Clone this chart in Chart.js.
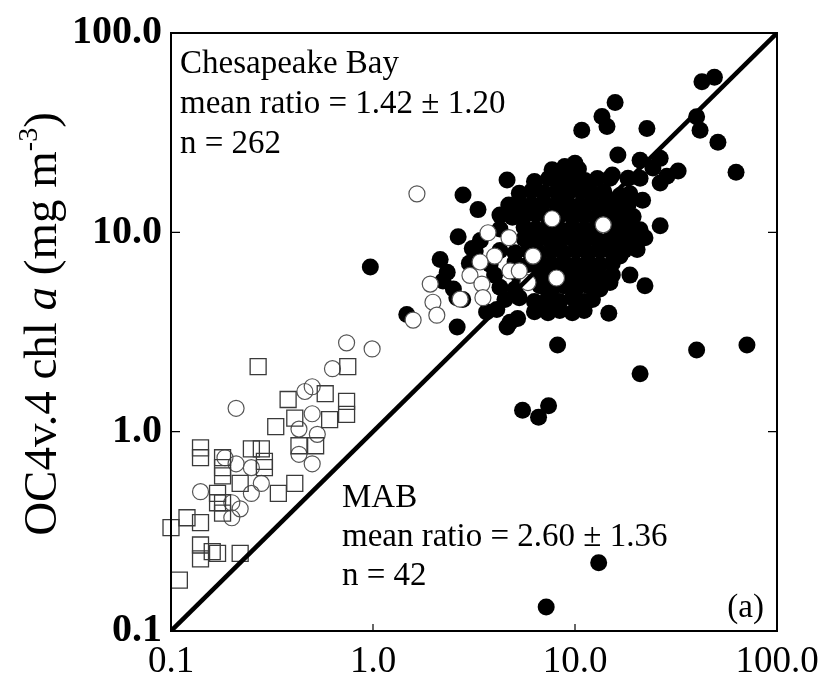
<!DOCTYPE html>
<html>
<head>
<meta charset="utf-8">
<script src="https://cdn.jsdelivr.net/npm/chart.js@4/dist/chart.umd.min.js"></script>
<style>
html,body{margin:0;padding:0;background:#fff;}
#wrap{width:828px;height:679px;position:relative;}
</style>
</head>
<body>
<div id="wrap"><canvas id="c" width="828" height="679"></canvas></div>
<script>
// ---- tick values / labels ----
const xTickValues = [0.1, 1, 10, 100];
const xTickLabels = ['0.1', '1.0', '10.0', '100.0'];
const yTickValues = [0.1, 1, 10, 100];
const yTickLabels = ['0.1', '1.0', '10.0', '100.0'];

// ---- 1:1 line ----
const oneToOne = [[0.1, 0.1], [100, 100]];

// ---- Chesapeake Bay, filled circles ----
const bayFilled = [
  [0.97,6.7],[5.5,1.28],[6.6,1.18],[7.4,1.35],[8.2,2.72],[21,1.95],[40,2.57],[71,2.72],
  [13.1,0.22],[7.2,0.132],[49,60],[42.5,57],[15.8,44.8],[13.6,38.1],[14.4,34.0],
  [22.7,33.2],[10.8,32.5],[40,38],[41.6,32.5],[51,28.3],[62.7,20],[16.3,24.4],[10,22.2],
  [4.61,18.3],[2.79,15.4],[3.31,13.0],[2.64,9.5],[21,23],[26.4,23.5],[32.4,20.3],[28.5,19.1],[24.3,21],
  [14.9,18.7],[18.3,18.7],[21,18.7],[26.4,17.7],[16.7,15.3],[21.6,14.5],[19.4,12],[15.3,13.1],[26.4,10.8],
  [8.4,19.8],[11.5,16.2],[15.3,19.4],[22.2,5.4],[14.7,3.93],
  [4.61,3.35],[5.2,3.7],[2.61,3.35],[7.7,4.4],[10.9,4.4],[4.77,3.54],[4.1,4.1],[3.65,3.98],[2.78,4.6],
  [7.2,4.1],[10.6,4.3],[12.2,4.6],[2.33,6.3],[2.5,5.2],[2.15,7.3],[3.2,8.1],[1.47,3.87],[2.22,5.7],[3.1,8.3],[2.6,4.7],
  [18.7,6.1],[14.9,5.6],[16.7,7.6],[20.3,8.2],[22.2,9.4],[19.4,10.4],[14.3,8.9],[16.7,10.4],
  [7.7,20.6],[8.9,21.4],[10.4,20.8],
  [6.3,18.0],[7.4,18.6],[8.4,18.1],[9.7,18.5],[11.2,18.2],[12.9,18.6],
  [5.3,15.7],[6.1,16.1],[7.0,15.8],[8.1,16.0],[9.2,15.7],[10.6,16.1],[12.1,15.8],[13.9,16.0],[18.7,15.6],
  [4.7,13.7],[5.3,14.0],[6.1,13.8],[7.0,14.1],[8.1,13.8],[9.2,14.0],[10.6,13.7],[12.1,14.1],[13.9,13.8],[16.0,14.0],[18.3,13.7],
  [4.25,12.2],[4.9,11.9],[5.6,12.1],[6.4,12.3],[7.35,11.9],[8.4,12.2],[9.7,12.0],[11.1,12.2],[12.7,11.9],[14.6,12.1],[16.7,12.3],[19.2,11.9],
  [4.25,10.4],[5.6,10.6],[6.4,10.4],[7.35,10.7],[8.4,10.4],[9.7,10.6],[11.1,10.4],[12.7,10.6],[15.8,10.4],[18.1,10.6],[21.0,10.3],
  [3.4,9.1],[5.6,9.3],[6.4,9.1],[7.35,9.3],[8.4,9.1],[9.7,9.3],[11.1,9.1],[12.7,9.3],[14.6,9.1],[16.7,9.3],[19.2,9.0],
  [3.2,8.0],[4.25,8.1],[5.05,7.9],[5.85,8.1],[6.7,7.9],[7.7,8.1],[8.8,7.9],[10.1,8.1],[11.6,7.9],[13.3,8.1],[15.3,7.9],[17.5,8.1],
  [3.0,7.0],[3.8,6.9],[5.05,7.1],[5.85,6.9],[6.7,7.1],[7.7,6.9],[8.8,7.1],[10.1,6.9],[11.6,7.1],[13.3,6.9],[15.3,7.0],
  [4.0,6.1],[5.3,6.0],[6.7,6.2],[7.7,6.0],[8.8,6.2],[10.1,6.0],[11.6,6.2],[13.3,6.0],[15.3,6.1],
  [4.25,5.3],[5.05,5.2],[6.7,5.4],[7.7,5.2],[8.8,5.4],[10.1,5.2],[11.6,5.4],[13.3,5.2],
  [4.5,4.6],[5.3,4.7],[6.3,4.5],[7.35,4.7],[8.4,4.5],[9.7,4.7],[11.1,4.5],
  [6.3,4.0],[7.35,3.95],[8.4,4.05],[9.7,3.95],[11.1,4.05]
];

// ---- open circles inside the bay cluster (white filled) ----
const bayOpen = [
  [1.65,15.6],[3.71,9.95],[4.71,9.4],[4.0,7.6],[3.39,7.1],[4.77,6.4],[3.02,6.08],[3.46,5.5],
  [5.85,5.6],[8.1,5.9],[6.2,7.6],[2.7,4.62],[3.5,4.7],[1.92,5.5],[1.98,4.46],[2.07,3.84],
  [1.58,3.63],[7.7,11.7],[13.8,10.9],[5.3,6.4]
];

// ---- MAB open circles ----
const mabOpen = [
  [0.74,2.79],[0.99,2.6],[0.63,2.07],[0.21,1.31],[0.46,1.59],[0.5,1.68],[0.5,1.23],[0.43,1.03],
  [0.53,0.97],[0.43,0.77],[0.5,0.69],[0.185,0.74],[0.21,0.69],[0.25,0.66],[0.28,0.55],[0.25,0.49],
  [0.14,0.50],[0.2,0.44],[0.22,0.41],[0.2,0.37]
];

// ---- MAB open squares ----
const mabSquares = [
  [0.27,2.12],[0.75,2.12],[0.38,1.45],[0.58,1.55],[0.74,1.42],[0.74,1.22],[0.61,1.15],[0.41,1.17],
  [0.33,1.06],[0.14,0.83],[0.14,0.74],[0.18,0.74],[0.18,0.66],[0.25,0.82],[0.28,0.82],[0.29,0.71],
  [0.29,0.66],[0.22,0.55],[0.34,0.49],[0.41,0.55],[0.43,0.85],[0.52,0.85],[0.17,0.49],[0.17,0.44],
  [0.18,0.39],[0.12,0.37],[0.1,0.33],[0.14,0.35],[0.14,0.27],[0.14,0.23],[0.16,0.25],[0.17,0.245],
  [0.22,0.245],[0.11,0.18],[0.18,0.6],[0.18,0.44]
];

// ---- texts ----
const annotationTop = ['Chesapeake Bay', 'mean ratio = 1.42 \u00B1 1.20', 'n = 262'];
const annotationBottom = ['MAB', 'mean ratio = 2.60 \u00B1 1.36', 'n = 42'];
const panelLabel = '(a)';
const yTitleParts = [
  {text: 'OC4v.4 chl ', style: 'normal'},
  {text: 'a', style: 'italic'},
  {text: ' (mg m', style: 'normal'},
  {text: '-3', style: 'sup'},
  {text: ')', style: 'normal'}
];

const toXY = arr => arr.map(p => ({x: p[0], y: p[1]}));
const FONT = '"Liberation Serif", "Times New Roman", serif';

const decorPlugin = {
  id: 'decor',
  afterDatasetsDraw(chart) {
    const {ctx, chartArea: a, scales} = chart;
    const x = scales.x, y = scales.y;
    ctx.save();
    ctx.strokeStyle = '#000';
    ctx.lineWidth = 2;
    ctx.strokeRect(a.left, a.top, a.right - a.left, a.bottom - a.top);
    ctx.lineWidth = 1.2;
    [1, 10].forEach(v => {
      const py = y.getPixelForValue(v);
      ctx.beginPath();
      ctx.moveTo(a.left, py); ctx.lineTo(a.left + 9, py);
      ctx.moveTo(a.right, py); ctx.lineTo(a.right - 9, py);
      ctx.stroke();
      const px = x.getPixelForValue(v);
      ctx.beginPath();
      ctx.moveTo(px, a.bottom); ctx.lineTo(px, a.bottom - 7);
      ctx.stroke();
    });
    // annotations
    ctx.fillStyle = '#000';
    ctx.font = '33px ' + FONT;
    ctx.textBaseline = 'alphabetic';
    ctx.textAlign = 'left';
    annotationTop.forEach((t, i) => ctx.fillText(t, a.left + 9, a.top + 40 + i * 40));
    annotationBottom.forEach((t, i) => ctx.fillText(t, a.left + 171, a.top + 474 + i * 39));
    ctx.textAlign = 'right';
    ctx.fillText(panelLabel, a.right - 13, a.bottom - 14);
    // y title (rotated, mixed styles)
    const size = 47;
    const fonts = {
      normal: size + 'px ' + FONT,
      italic: 'italic ' + size + 'px ' + FONT,
      sup: Math.round(size * 0.6) + 'px ' + FONT
    };
    let total = 0;
    const widths = yTitleParts.map(p => { ctx.font = fonts[p.style]; const w = ctx.measureText(p.text).width; total += w; return w; });
    ctx.translate(41, (a.top + a.bottom) / 2 - 8);
    ctx.rotate(-Math.PI / 2);
    ctx.textAlign = 'left';
    let cx = -total / 2;
    yTitleParts.forEach((p, i) => {
      ctx.font = fonts[p.style];
      const dy = p.style === 'sup' ? -19 : 0;
      ctx.fillText(p.text, cx, 15 + dy);
      cx += widths[i];
    });
    ctx.restore();
  }
};

new Chart(document.getElementById('c'), {
  type: 'scatter',
  data: {
    datasets: [
      {label: '1:1', type: 'line', data: toXY(oneToOne), borderColor: '#000', borderWidth: 4.5,
       pointRadius: 0, fill: false, order: 0},
      {label: 'MAB squares', data: toXY(mabSquares), pointStyle: 'rect', pointRadius: 11.3,
       backgroundColor: 'rgba(0,0,0,0)', borderColor: '#3a3a3a', borderWidth: 1.3, order: 1, clip: false},
      {label: 'MAB circles', data: toXY(mabOpen), pointStyle: 'circle', pointRadius: 8,
       backgroundColor: 'rgba(0,0,0,0)', borderColor: '#555', borderWidth: 1.2, order: 2, clip: false},
      {label: 'Bay open', data: toXY(bayOpen), pointStyle: 'circle', pointRadius: 8,
       backgroundColor: '#fff', borderColor: '#555', borderWidth: 1.2, order: 3},
      {label: 'Chesapeake Bay', data: toXY(bayFilled), pointStyle: 'circle', pointRadius: 8.5,
       backgroundColor: '#000', borderColor: '#000', borderWidth: 0, order: 4}
    ]
  },
  options: {
    responsive: false,
    animation: false,
    devicePixelRatio: 1,
    events: [],
    layout: {autoPadding: false, padding: {left: 0, top: 29, right: 51, bottom: 0}},
    plugins: {legend: {display: false}, tooltip: {enabled: false}},
    scales: {
      x: {
        type: 'logarithmic', min: 0.1, max: 100, position: 'bottom',
        grid: {display: false, drawTicks: false}, border: {display: false},
        afterBuildTicks: s => { s.ticks = xTickValues.map(v => ({value: v})); },
        afterFit: s => { s.height = 48; },
        ticks: {autoSkip: false, maxRotation: 0, minRotation: 0, padding: 9, color: '#000',
                font: {family: FONT, size: 37},
                callback: (v, i) => xTickLabels[i]}
      },
      y: {
        type: 'logarithmic', min: 0.1, max: 100, position: 'left',
        grid: {display: false, drawTicks: false}, border: {display: false},
        afterBuildTicks: s => { s.ticks = yTickValues.map(v => ({value: v})); },
        afterFit: s => { s.width = 171; },
        ticks: {autoSkip: false, padding: 9, color: '#000',
                font: {family: FONT, size: 40, weight: 'bold'},
                callback: (v, i) => yTickLabels[i]}
      }
    }
  },
  plugins: [decorPlugin]
});
</script>
</body>
</html>
